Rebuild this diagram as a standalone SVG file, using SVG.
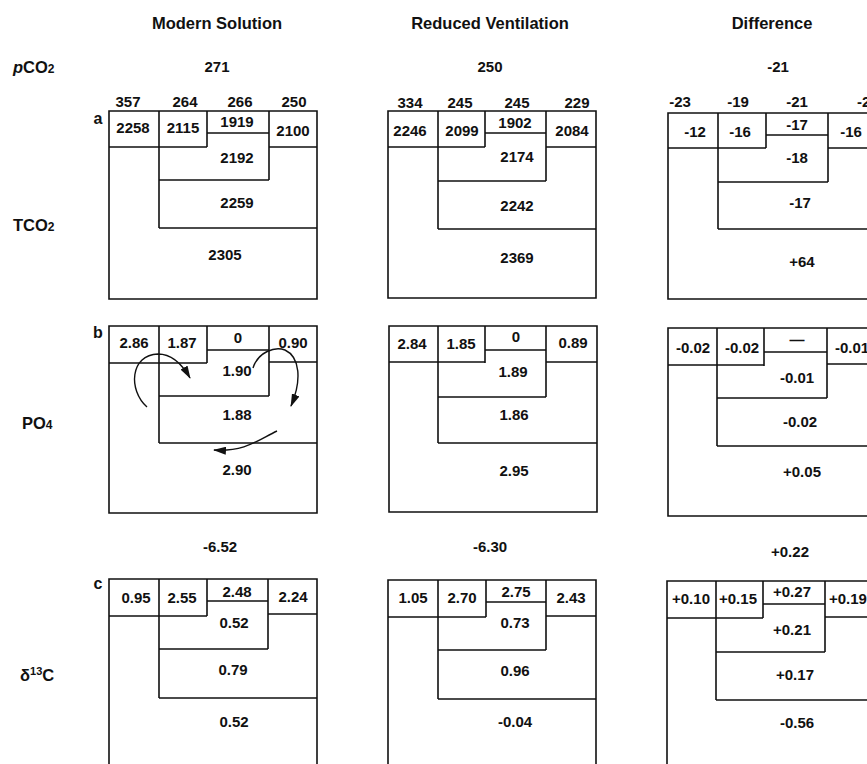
<svg xmlns="http://www.w3.org/2000/svg" width="867" height="764" viewBox="0 0 867 764">
<style>
text{font-family:"Liberation Sans",Arial,sans-serif;font-weight:bold;font-size:15px;fill:#111;text-anchor:middle}
.title{font-size:16.5px}
.lbl{text-anchor:start}
.st{text-anchor:start}
.pl{font-size:16.5px}
.let{font-size:16px}
.box{fill:none;stroke:#111;stroke-width:1.6}
.arr{fill:none;stroke:#111;stroke-width:1.4}
</style>
<defs>
<marker id="ah" markerWidth="13" markerHeight="8" refX="12" refY="4" orient="auto" markerUnits="userSpaceOnUse">
<path d="M0,0 L13,4 L0,8 Z" fill="#111"/>
</marker>
</defs>
<rect width="867" height="764" fill="#fff"/>

<g id="headers">
<text class="title" x="217" y="29">Modern Solution</text>
<text class="title" x="490" y="29">Reduced Ventilation</text>
<text class="title" x="772" y="29">Difference</text>
</g>

<g id="row-labels">
<text class="lbl pl" x="13" y="73"><tspan font-style="italic">p</tspan>CO<tspan font-size="12">2</tspan></text>
<text class="lbl pl" x="13" y="231">TCO<tspan font-size="12">2</tspan></text>
<text class="lbl pl" x="22" y="429">PO<tspan font-size="12">4</tspan></text>
<text class="lbl pl" x="20" y="681">δ<tspan font-size="11" dy="-6">13</tspan><tspan dy="6">C</tspan></text>
</g>

<g id="atm-values">
<text x="217" y="72">271</text>
<text x="490" y="72">250</text>
<text x="778" y="72">-21</text>
<text x="220" y="552">-6.52</text>
<text x="490" y="552">-6.30</text>
<text x="790" y="557">+0.22</text>
</g>

<g id="panel-letters">
<text class="let" x="98" y="124">a</text>
<text class="let" x="98" y="338">b</text>
<text class="let" x="98" y="589">c</text>
</g>

<g id="panel-modern-a">
<path class="box" d="M109,111 H317 V299 H109 Z M159,111 V228 M207,111 V147 M109,147 H207 M207,133 H269 M269,111 V180 M269,147 H317 M159,180 H269 M159,228 H317"/>
<text x="128" y="107">357</text><text x="185" y="107">264</text><text x="240" y="107">266</text><text x="294" y="107">250</text>
<text x="133" y="133">2258</text><text x="183" y="133">2115</text><text x="237" y="127">1919</text><text x="293" y="136">2100</text>
<text x="237" y="163">2192</text><text x="237" y="208">2259</text><text x="225" y="260">2305</text>
</g>

<g id="panel-reduced-a">
<path class="box" d="M388,111 H596 V298 H388 Z M438,111 V229 M485,111 V147 M388,147 H485 M485,133 H546 M546,111 V181 M546,147 H596 M438,181 H546 M438,229 H596"/>
<text x="410" y="108">334</text><text x="460" y="108">245</text><text x="517" y="108">245</text><text x="577" y="108">229</text>
<text x="410" y="136">2246</text><text x="462" y="136">2099</text><text x="515" y="128">1902</text><text x="572" y="136">2084</text>
<text x="517" y="162">2174</text><text x="517" y="211">2242</text><text x="517" y="263">2369</text>
</g>

<g id="panel-difference-a">
<path class="box" d="M668,113 H876 V299 H668 Z M718,113 V229 M766,113 V148 M668,148 H766 M766,135 H828 M828,113 V182 M828,148 H876 M718,182 H828 M718,229 H876"/>
<text x="680" y="107">-23</text><text x="738" y="107">-19</text><text x="797" y="107">-21</text><text class="st" x="857" y="107">-21</text>
<text x="695" y="137">-12</text><text x="740" y="137">-16</text><text x="797" y="130">-17</text><text x="851" y="137">-16</text>
<text x="797" y="163">-18</text><text x="800" y="208">-17</text><text x="802" y="267">+64</text>
</g>

<g id="panel-modern-b">
<path class="box" d="M109,326 H317 V513 H109 Z M159,326 V443 M207,326 V363 M109,363 H207 M207,350 H269 M269,326 V396 M269,362 H317 M159,396 H269 M159,443 H317"/>
<text x="134" y="348">2.86</text><text x="182" y="348">1.87</text><text x="238" y="343">0</text><text x="293" y="348">0.90</text>
<text x="237" y="376">1.90</text><text x="237" y="420">1.88</text><text x="237" y="475">2.90</text>
</g>

<g id="panel-reduced-b">
<path class="box" d="M389,326 H597 V512 H389 Z M438,326 V443 M485,326 V363 M389,362 H485 M485,350 H546 M546,326 V397 M546,362 H597 M438,397 H546 M438,443 H597"/>
<text x="412" y="349">2.84</text><text x="461" y="349">1.85</text><text x="516" y="342">0</text><text x="573" y="348">0.89</text>
<text x="513" y="377">1.89</text><text x="514" y="420">1.86</text><text x="514" y="476">2.95</text>
</g>

<g id="panel-difference-b">
<path class="box" d="M668,328 H876 V516 H668 Z M717,328 V446 M764,328 V366 M668,365 H764 M764,352 H827 M827,328 V398 M827,364 H876 M717,398 H827 M717,446 H876"/>
<text x="693" y="353">-0.02</text><text x="742" y="353">-0.02</text><text x="797" y="345">—</text><text class="st" x="835" y="353">-0.01</text>
<text x="797" y="383">-0.01</text><text x="800" y="427">-0.02</text><text x="802" y="477">+0.05</text>
</g>

<g id="panel-modern-c">
<path class="box" d="M109,780 V579 H317 V780 M159,579 V698 M207,579 V616 M109,616 H207 M207,601 H268 M268,579 V649 M268,614 H317 M159,649 H268 M159,698 H317"/>
<text x="136" y="603">0.95</text><text x="182" y="603">2.55</text><text x="237" y="597">2.48</text><text x="293" y="602">2.24</text>
<text x="234" y="628">0.52</text><text x="233" y="675">0.79</text><text x="234" y="727">0.52</text>
</g>

<g id="panel-reduced-c">
<path class="box" d="M388,780 V580 H596 V780 M438,580 V699 M486,580 V617 M388,617 H486 M486,602 H546 M546,580 V650 M546,616 H596 M438,650 H546 M438,699 H596"/>
<text x="413" y="603">1.05</text><text x="462" y="603">2.70</text><text x="516" y="597">2.75</text><text x="571" y="603">2.43</text>
<text x="515" y="628">0.73</text><text x="515" y="676">0.96</text><text x="515" y="727">-0.04</text>
</g>

<g id="panel-difference-c">
<path class="box" d="M667,780 V581 H876 V780 M716,581 V700 M763,581 V618 M667,618 H763 M763,604 H825 M825,581 V652 M825,617 H876 M716,652 H825 M716,700 H876"/>
<text x="691" y="604">+0.10</text><text x="738" y="604">+0.15</text><text x="792" y="597">+0.27</text><text class="st" x="829" y="604">+0.19</text>
<text x="792" y="635">+0.21</text><text x="795" y="680">+0.17</text><text x="797" y="728">-0.56</text>
</g>

<g id="connectors">
<path class="arr" marker-end="url(#ah)" d="M147,407 C128,390 130,355 158,354 C172,354 182,364 190,378"/>
<path class="arr" marker-end="url(#ah)" d="M253,368 C258,352 275,346 285,350 C300,357 302,380 291,406"/>
<path class="arr" marker-end="url(#ah)" d="M277,431 C258,440 245,452 214,450"/>
</g>
</svg>
